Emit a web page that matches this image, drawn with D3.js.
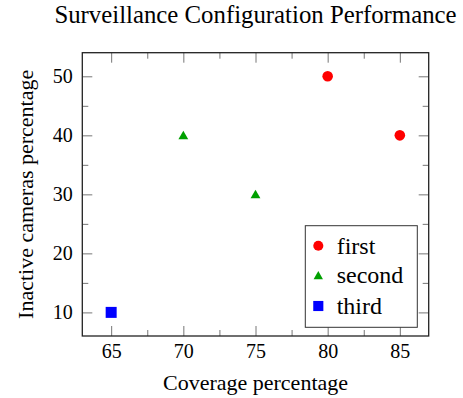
<!DOCTYPE html>
<html>
<head>
<meta charset="utf-8">
<script src="https://cdn.jsdelivr.net/npm/d3@7"></script>
<style>
  body { margin: 0; background: #fff; }
</style>
</head>
<body>
<svg width="463" height="398"></svg>
<script>
// data
const seriesNames = ["first", "second", "third"];
const seriesColors = ["#ff0000", "#00a000", "#0000ff"];
const seriesShapes = ["circle", "triangle", "square"];
const firstX = [80, 85], firstY = [50, 40];
const secondX = [70, 75], secondY = [40, 30];
const thirdX = [65], thirdY = [10];
const xTicks = [65, 70, 75, 80, 85];
const yTicks = [10, 20, 30, 40, 50];
const xMinor = [62.5, 67.5, 72.5, 77.5, 82.5, 87.5];
const yMinor = [5, 15, 25, 35, 45, 55];

const xs = [firstX, secondX, thirdX], ys = [firstY, secondY, thirdY];
const series = seriesNames.map((name, i) => ({
    name: name,
    color: seriesColors[i],
    shape: seriesShapes[i],
    points: xs[i].map((v, j) => ({x: v, y: ys[i][j]}))
}));

const FONT = "'Liberation Serif', 'Times New Roman', serif";
const svg = d3.select("svg");
const pLeft = 82.3, pRight = 428.7, pTop = 52.7, pBottom = 336;

const x = d3.scaleLinear().domain([63, 87]).range([pLeft, pRight]);
const y = d3.scaleLinear().domain([6, 54]).range([pBottom, pTop]);

const symbolFor = {
    circle: d3.symbol().type(d3.symbolCircle).size(Math.PI * 5.3 * 5.3),
    triangle: d3.symbol().type(d3.symbolTriangle).size(42),
    square: d3.symbol().type(d3.symbolSquare).size(11 * 11)
};

/* ticks (inside, on all four sides) */
const tickColor = "#666";
function styleTicks(sel) {
    sel.attr("font-family", FONT);
    sel.select(".domain").remove();
    sel.selectAll(".tick line").attr("stroke", tickColor).attr("stroke-width", 0.9);
    sel.selectAll(".tick text").style("font-family", FONT).style("font-size", "20px").attr("fill", "#000");
}

const inMinX = v => v > 63 && v < 87, inMinY = v => v > 6 && v < 54;

svg.append("g").attr("transform", `translate(0,${pBottom})`)
    .call(d3.axisBottom(x).tickValues(xTicks).tickSize(-10).tickPadding(8).tickFormat(d3.format("d")))
    .call(styleTicks);
svg.append("g").attr("transform", `translate(0,${pBottom})`)
    .call(d3.axisBottom(x).tickValues(xMinor.filter(inMinX)).tickSize(-6).tickFormat(""))
    .call(styleTicks);
svg.append("g").attr("transform", `translate(0,${pTop})`)
    .call(d3.axisTop(x).tickValues(xTicks).tickSize(-10).tickFormat(""))
    .call(styleTicks);
svg.append("g").attr("transform", `translate(0,${pTop})`)
    .call(d3.axisTop(x).tickValues(xMinor.filter(inMinX)).tickSize(-6).tickFormat(""))
    .call(styleTicks);

svg.append("g").attr("transform", `translate(${pLeft},0)`)
    .call(d3.axisLeft(y).tickValues(yTicks).tickSize(-10).tickPadding(9.6).tickFormat(d3.format("d")))
    .call(styleTicks);
svg.append("g").attr("transform", `translate(${pLeft},0)`)
    .call(d3.axisLeft(y).tickValues(yMinor.filter(inMinY)).tickSize(-6).tickFormat(""))
    .call(styleTicks);
svg.append("g").attr("transform", `translate(${pRight},0)`)
    .call(d3.axisRight(y).tickValues(yTicks).tickSize(-10).tickFormat(""))
    .call(styleTicks);
svg.append("g").attr("transform", `translate(${pRight},0)`)
    .call(d3.axisRight(y).tickValues(yMinor.filter(inMinY)).tickSize(-6).tickFormat(""))
    .call(styleTicks);

// frame
svg.append("rect")
    .attr("x", pLeft).attr("y", pTop)
    .attr("width", pRight - pLeft).attr("height", pBottom - pTop)
    .attr("fill", "none").attr("stroke", "#222").attr("stroke-width", 1.3);

// marks
series.forEach(s => {
    svg.append("g").selectAll("path").data(s.points).enter().append("path")
        .attr("d", symbolFor[s.shape])
        .attr("transform", d => `translate(${x(d.x)},${y(d.y) + (s.shape === "triangle" ? 1 : 0)})`)
        .attr("fill", s.color);
});

// labels
svg.append("text")
    .attr("x", (pLeft + pRight) / 2).attr("y", 22.7)
    .attr("text-anchor", "middle")
    .style("font-family", FONT).style("font-size", "24.8px")
    .text("Surveillance Configuration Performance");

svg.append("text")
    .attr("x", (pLeft + pRight) / 2).attr("y", 390)
    .attr("text-anchor", "middle")
    .style("font-family", FONT).style("font-size", "22px")
    .text("Coverage percentage");

svg.append("text")
    .attr("transform", `translate(33.3,${(pTop + pBottom) / 2}) rotate(-90)`)
    .attr("text-anchor", "middle")
    .style("font-family", FONT).style("font-size", "22px")
    .text("Inactive cameras percentage");

// legend
const legend = svg.append("g");
legend.append("rect")
    .attr("x", 305.3).attr("y", 225.7)
    .attr("width", 112).attr("height", 101.6)
    .attr("fill", "#fff").attr("stroke", "#333").attr("stroke-width", 1);

const rowY = [245.7, 275.5, 306];
series.forEach((s, i) => {
    legend.append("path")
        .attr("d", symbolFor[s.shape])
        .attr("transform", `translate(318.3,${rowY[i] + (s.shape === "triangle" ? 1 : 0)}) scale(${s.shape === "square" ? 0.92 : 0.95})`)
        .attr("fill", s.color);
    legend.append("text")
        .attr("x", 336.7).attr("y", rowY[i] + 7.8)
        .style("font-family", FONT).style("font-size", "24px")
        .text(s.name);
});
</script>
</body>
</html>
